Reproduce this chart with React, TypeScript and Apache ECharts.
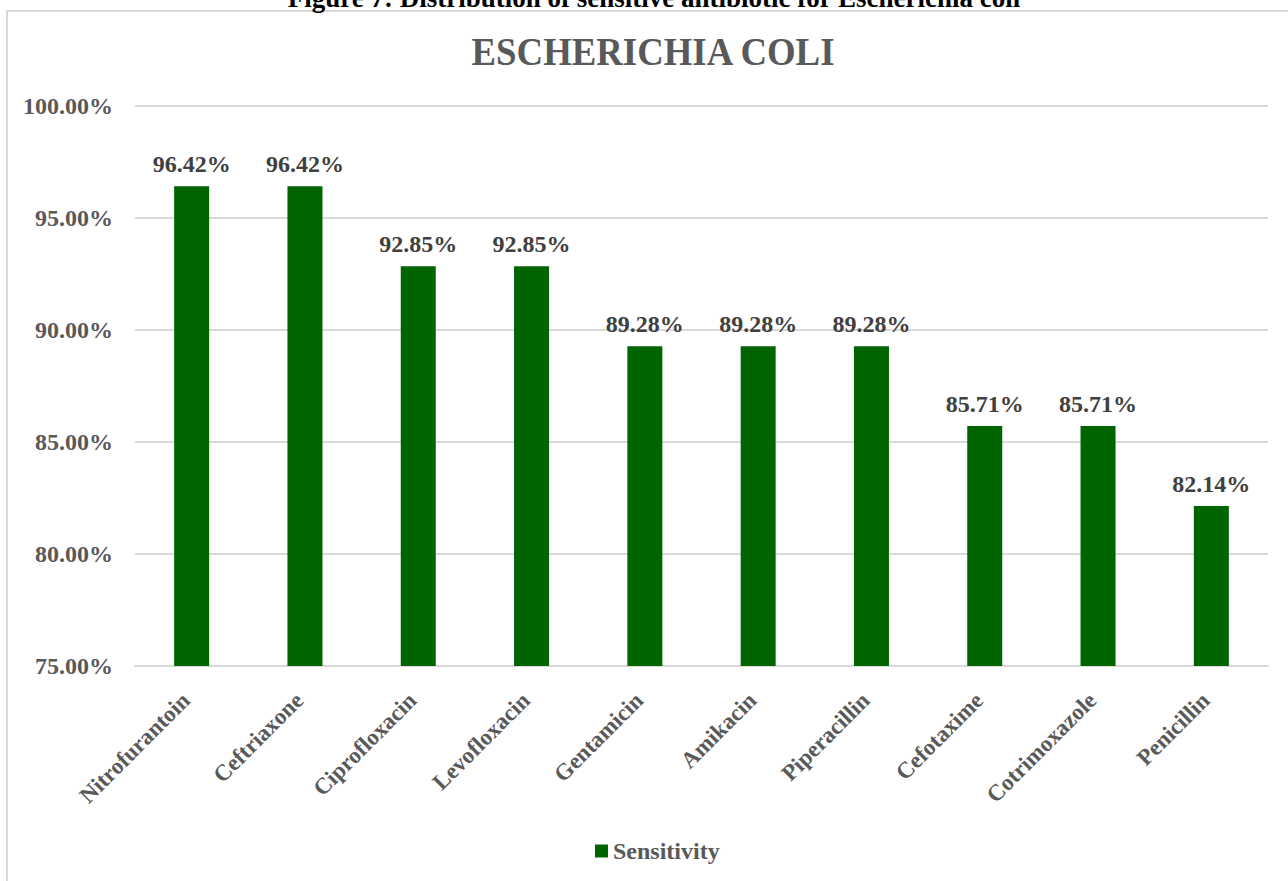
import React, { useEffect, useRef } from "react";
import * as echarts from "echarts";

const categories = [
  "Nitrofurantoin",
  "Ceftriaxone",
  "Ciprofloxacin",
  "Levofloxacin",
  "Gentamicin",
  "Amikacin",
  "Piperacillin",
  "Cefotaxime",
  "Cotrimoxazole",
  "Penicillin",
];
const sensitivity = [96.42, 96.42, 92.85, 92.85, 89.28, 89.28, 89.28, 85.71, 85.71, 82.14];
const seriesName = "Sensitivity";
const chartTitle = "ESCHERICHIA COLI";
const caption = "Figure 7: Distribution of sensitive antibiotic for Escherichia coli";
const yMin = 75;
const yMax = 100;
const yStep = 5;

const FONT = "'Liberation Serif', 'Times New Roman', serif";

export default function App() {
  const ref = useRef<HTMLDivElement>(null);
  useEffect(() => {
    document.body.style.margin = "0";
    if (!ref.current) return;
    const chart = echarts.init(ref.current, undefined, { renderer: "svg" });
    chart.setOption({
      animation: false,
      backgroundColor: "#ffffff",
      textStyle: { fontFamily: FONT },
      graphic: [
        {
          type: "rect",
          shape: { x: 7, y: 11, width: 1300, height: 900 },
          style: { fill: "none", stroke: "#d9d9d9", lineWidth: 2 },
          silent: true,
        },
        {
          type: "text",
          x: 654,
          y: -2,
          style: {
            text: caption,
            font: `bold 27px ${FONT}`,
            fill: "#000000",
            align: "center",
            verticalAlign: "middle",
          },
        },
        {
          type: "text",
          x: 653,
          y: 51.5,
          scaleX: 0.92,
          style: {
            text: chartTitle,
            font: `bold 40px ${FONT}`,
            fill: "#595959",
            align: "center",
            verticalAlign: "middle",
          },
        },
      ],
      grid: { left: 135, right: 20, top: 106, bottom: 215, containLabel: false },
      legend: {
        data: [seriesName],
        left: 590,
        top: 834,
        icon: "rect",
        itemWidth: 13,
        itemHeight: 13,
        itemGap: 10,
        textStyle: { fontFamily: FONT, fontWeight: "bold", fontSize: 24, color: "#595959", padding: [0, 0, 0, 0] },
      },
      xAxis: {
        type: "category",
        data: categories,
        axisLine: { show: true, lineStyle: { color: "#d9d9d9", width: 2 } },
        axisTick: { show: false },
        axisLabel: {
          interval: 0,
          rotate: 45,
          margin: 25,
          padding: [0, 8, 0, 0],
          fontFamily: FONT,
          fontWeight: "bold",
          fontSize: 23,
          color: "#595959",
        },
      },
      yAxis: {
        type: "value",
        min: yMin,
        max: yMax,
        interval: yStep,
        axisLine: { show: false },
        axisTick: { show: false },
        splitLine: { lineStyle: { color: "#d9d9d9", width: 2 } },
        axisLabel: {
          margin: 22,
          fontFamily: FONT,
          fontWeight: "bold",
          fontSize: 24,
          color: "#595959",
          formatter: (v: number) => v.toFixed(2) + "%",
        },
      },
      series: [
        {
          name: seriesName,
          type: "bar",
          data: sensitivity,
          barWidth: 35,
          itemStyle: { color: "#006400" },
          label: {
            show: true,
            position: "top",
            distance: 10,
            fontFamily: FONT,
            fontWeight: "bold",
            fontSize: 24,
            color: "#404040",
            formatter: (p: any) => Number(p.value).toFixed(2) + "%",
          },
        },
      ],
    });
    return () => chart.dispose();
  }, []);
  return <div ref={ref} style={{ width: 1288, height: 881 }} />;
}
